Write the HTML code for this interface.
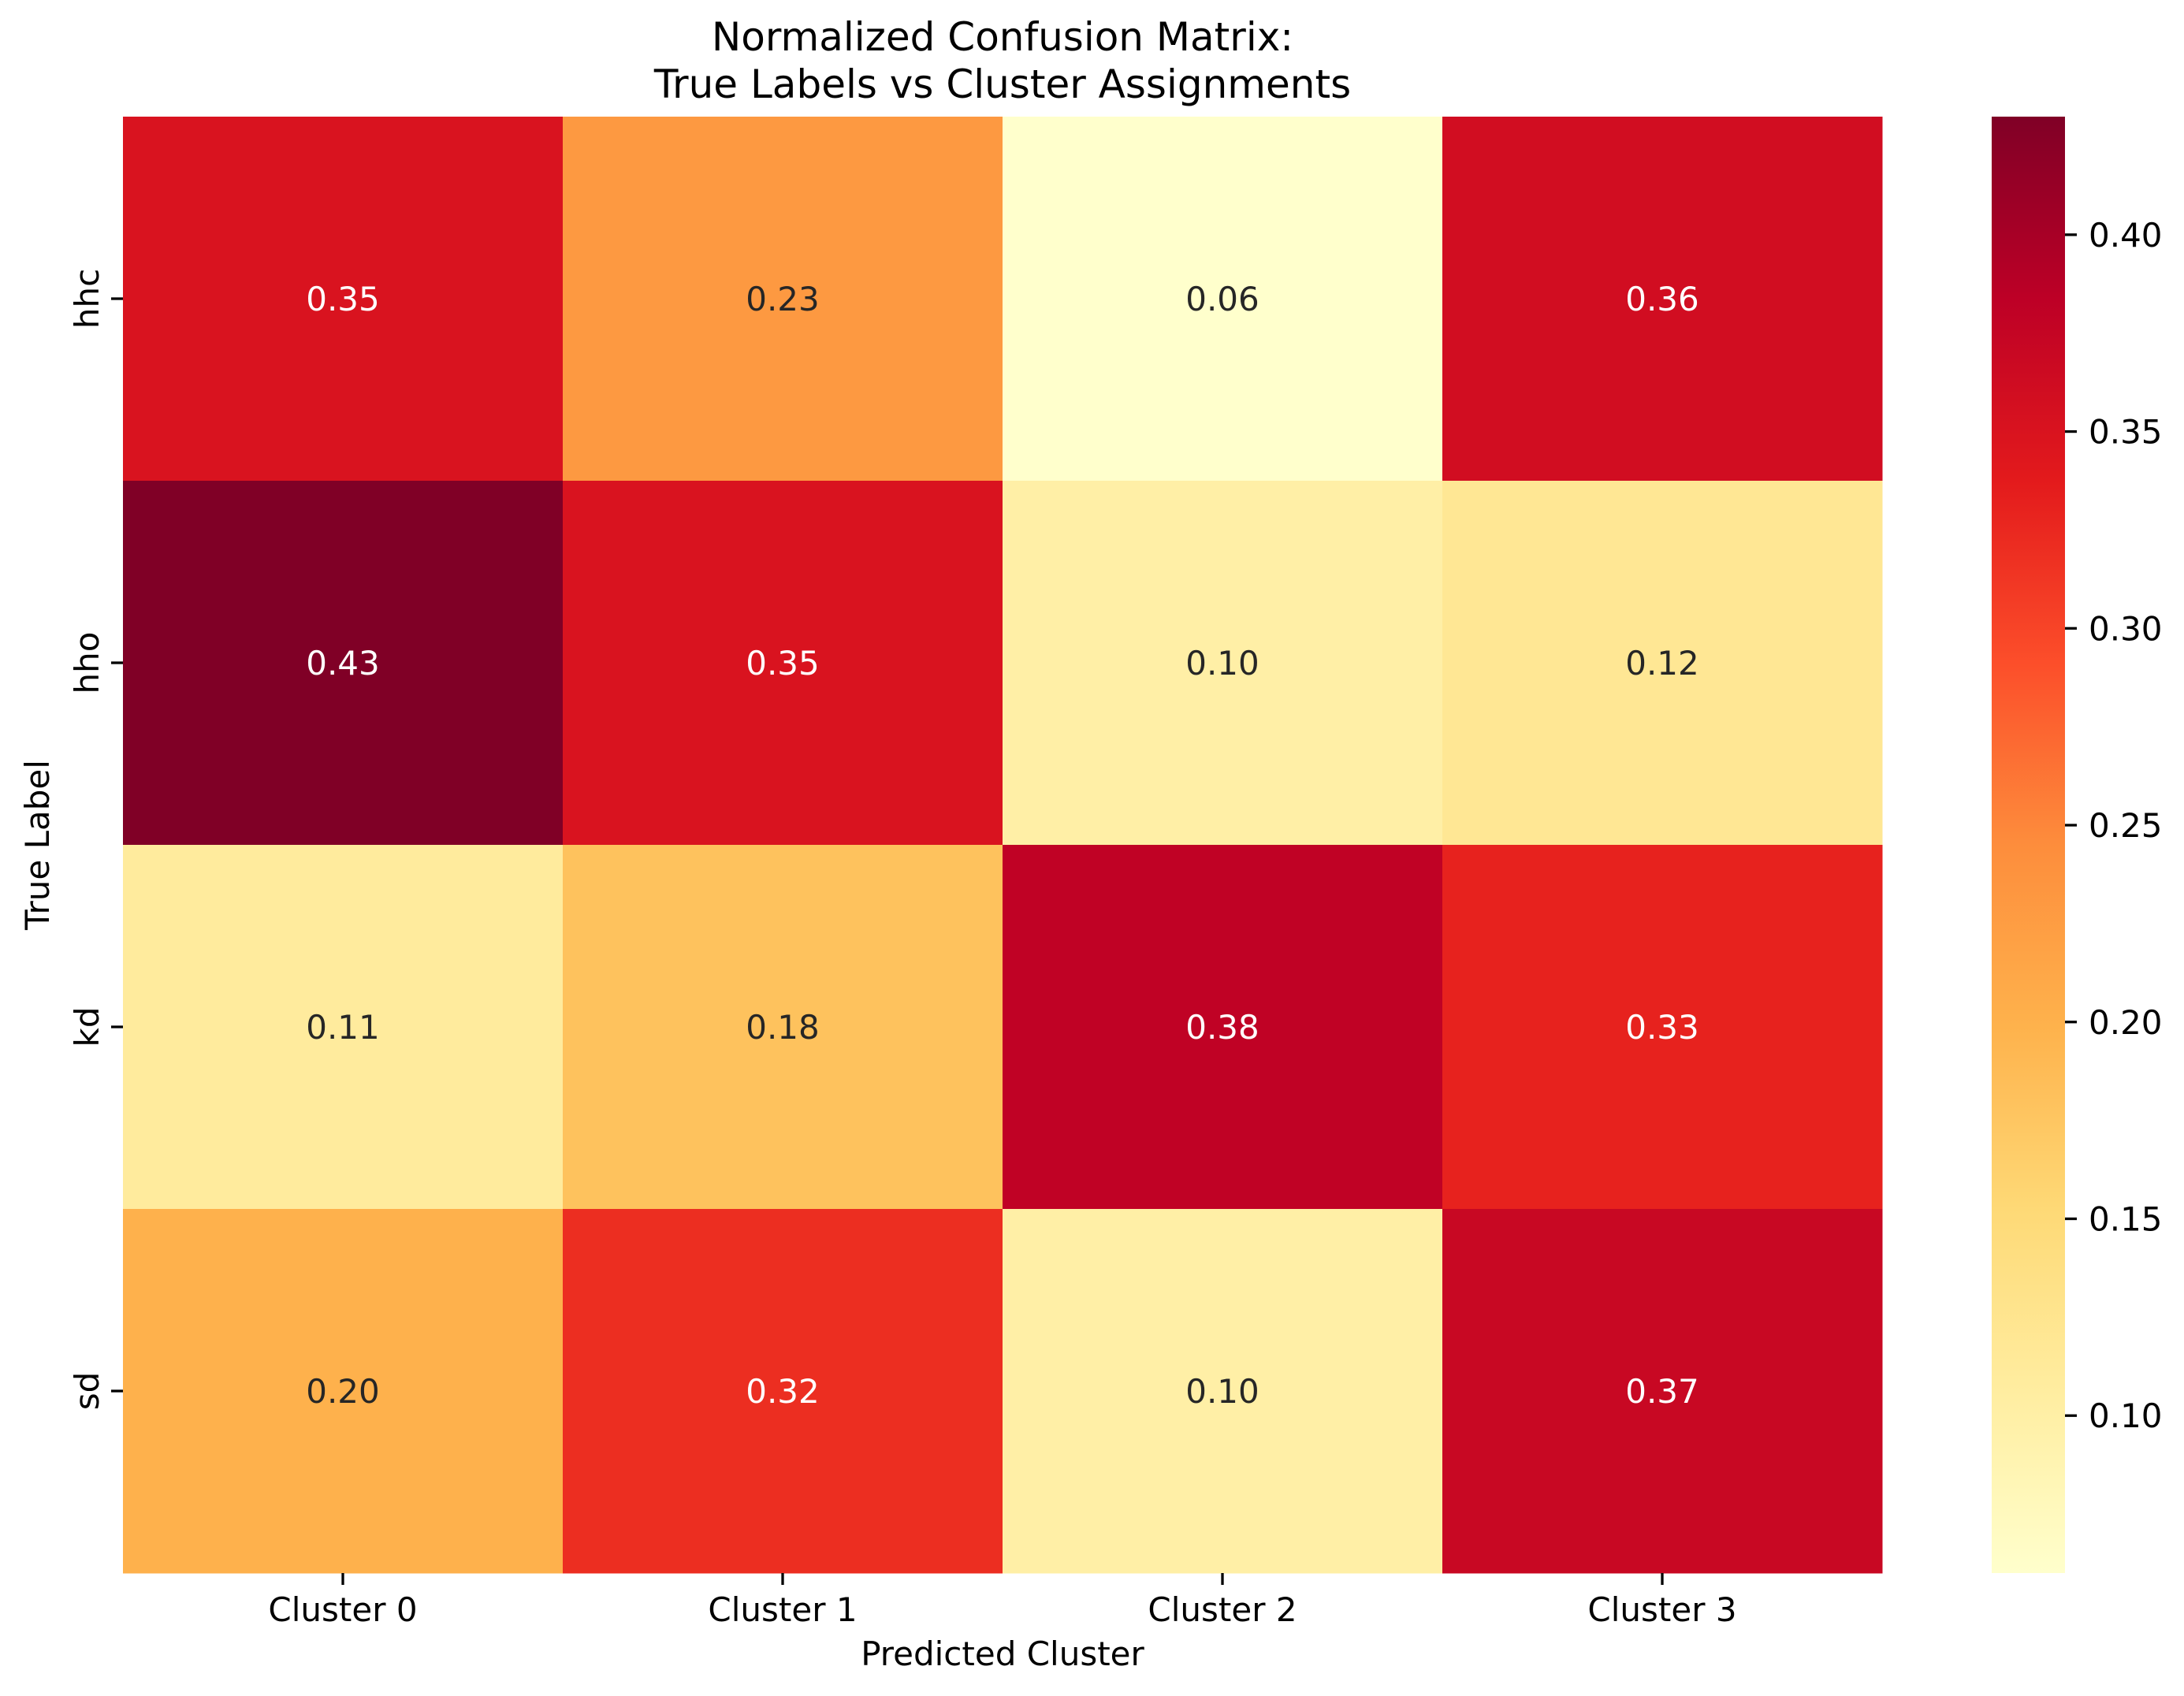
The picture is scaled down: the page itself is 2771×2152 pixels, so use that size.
<!DOCTYPE html>
<html><head><meta charset="utf-8"><style>
html,body{margin:0;padding:0;background:#fff;}
svg{display:block;font-family:"DejaVu Sans","Liberation Sans",sans-serif;}
</style></head><body>
<svg id="chart" width="2771" height="2152" viewBox="0 0 2771 2152">
<defs>
<linearGradient id="cbgrad" x1="0" y1="1" x2="0" y2="0">
<stop offset="0" stop-color="#ffffcc"/><stop offset="0.125" stop-color="#ffeda0"/><stop offset="0.25" stop-color="#fed976"/><stop offset="0.375" stop-color="#feb24c"/><stop offset="0.5" stop-color="#fd8d3c"/><stop offset="0.625" stop-color="#fc4e2a"/><stop offset="0.75" stop-color="#e31a1c"/><stop offset="0.875" stop-color="#bd0026"/><stop offset="1" stop-color="#800026"/>
</linearGradient>
</defs>
<text x="1272" y="64" text-anchor="middle" font-size="50">Normalized Confusion Matrix:</text>
<text x="1272" y="124" text-anchor="middle" font-size="50">True Labels vs Cluster Assignments</text>
<g id="cells"></g>
<g id="xaxis"></g>
<g id="yaxis"></g>
<text x="1272" y="2113" text-anchor="middle" font-size="42">Predicted Cluster</text>
<text transform="translate(62,1072) rotate(-90)" text-anchor="middle" font-size="42">True Label</text>
<rect x="2527" y="148" width="93" height="1848" fill="url(#cbgrad)"/>
<g id="cbticks"></g>
</svg>
<script>
const cols = ["Cluster 0","Cluster 1","Cluster 2","Cluster 3"];
const rows = ["hhc","hho","kd","sd"];
const row0 = [0.35,0.23,0.06,0.36];
const row1 = [0.43,0.35,0.10,0.12];
const row2 = [0.11,0.18,0.38,0.33];
const row3 = [0.20,0.32,0.10,0.37];
const cbTicks = [0.10,0.15,0.20,0.25,0.30,0.35,0.40];
const values = [row0,row1,row2,row3];
const all = values.flat();
const vmin = Math.min(...all), vmax = Math.max(...all);
const L=156,R=2388,T=148,B=1996;
const cw=(R-L)/cols.length, ch=(B-T)/rows.length;
const xPos=i=>L+cw*i, yPos=j=>T+ch*j;
const stops=["#ffffcc","#ffeda0","#fed976","#feb24c","#fd8d3c","#fc4e2a","#e31a1c","#bd0026","#800026"].map(h=>[1,3,5].map(k=>parseInt(h.substr(k,2),16)));
function cmap(v){let t=(v-vmin)/(vmax-vmin);t=Math.max(0,Math.min(1,t))*8;let i=Math.min(7,Math.floor(t)),f=t-i;return stops[i].map((c,k)=>Math.round(c+(stops[i+1][k]-c)*f));}
function lum(c){const l=c.map(x=>{x/=255;return x<=0.03928?x/12.92:Math.pow((x+0.055)/1.055,2.4)});return 0.2126*l[0]+0.7152*l[1]+0.0722*l[2];}
const NS="http://www.w3.org/2000/svg";
const g=document.getElementById('cells');
values.forEach((row,j)=>row.forEach((v,i)=>{
 const c=cmap(v);
 const r=document.createElementNS(NS,'rect');
 r.setAttribute('x',xPos(i));r.setAttribute('y',yPos(j));r.setAttribute('width',cw+0.5);r.setAttribute('height',ch+0.5);
 r.setAttribute('fill',`rgb(${c})`);
 
 
 g.appendChild(r);
 const t=document.createElementNS(NS,'text');
 t.setAttribute('x',xPos(i)+cw/2);t.setAttribute('y',yPos(j)+ch/2+15);t.setAttribute('text-anchor','middle');t.setAttribute('font-size','42');
 t.setAttribute('fill',lum(c)>0.408?'#262626':'#ffffff');
 t.textContent=v.toFixed(2);
 
 
 g.appendChild(t);
}));
const xa=document.getElementById('xaxis');
cols.forEach((c,i)=>{
 const x=xPos(i)+cw/2;
 const l=document.createElementNS(NS,'line');
 l.setAttribute('x1',x);l.setAttribute('x2',x);l.setAttribute('y1',B);l.setAttribute('y2',B+15);l.setAttribute('stroke','#000');l.setAttribute('stroke-width','3.3');
 
 
 xa.appendChild(l);
 const t=document.createElementNS(NS,'text');
 t.setAttribute('x',x);t.setAttribute('y',2057);t.setAttribute('text-anchor','middle');t.setAttribute('font-size','42');t.textContent=c;
 
 
 xa.appendChild(t);
});
const ya=document.getElementById('yaxis');
rows.forEach((r,j)=>{
 const y=yPos(j)+ch/2;
 const l=document.createElementNS(NS,'line');
 l.setAttribute('x1',L-15);l.setAttribute('x2',L);l.setAttribute('y1',y);l.setAttribute('y2',y);l.setAttribute('stroke','#000');l.setAttribute('stroke-width','3.3');
 
 
 ya.appendChild(l);
 const t=document.createElementNS(NS,'text');
 t.setAttribute('transform',`translate(125,${y}) rotate(-90)`);t.setAttribute('text-anchor','middle');t.setAttribute('font-size','42');t.textContent=r;
 
 
 ya.appendChild(t);
});
const cb=document.getElementById('cbticks');
const cbT=148,cbB=1996;
cbTicks.forEach(v=>{
 const y=cbB-(v-vmin)/(vmax-vmin)*(cbB-cbT);
 const l=document.createElementNS(NS,'line');
 l.setAttribute('x1',2620);l.setAttribute('x2',2635);l.setAttribute('y1',y);l.setAttribute('y2',y);l.setAttribute('stroke','#000');l.setAttribute('stroke-width','3.3');
 
 
 cb.appendChild(l);
 const t=document.createElementNS(NS,'text');
 t.setAttribute('x',2650);t.setAttribute('y',y+15);t.setAttribute('font-size','42');t.textContent=v.toFixed(2);
 
 
 cb.appendChild(t);
});
</script>
</body></html>
